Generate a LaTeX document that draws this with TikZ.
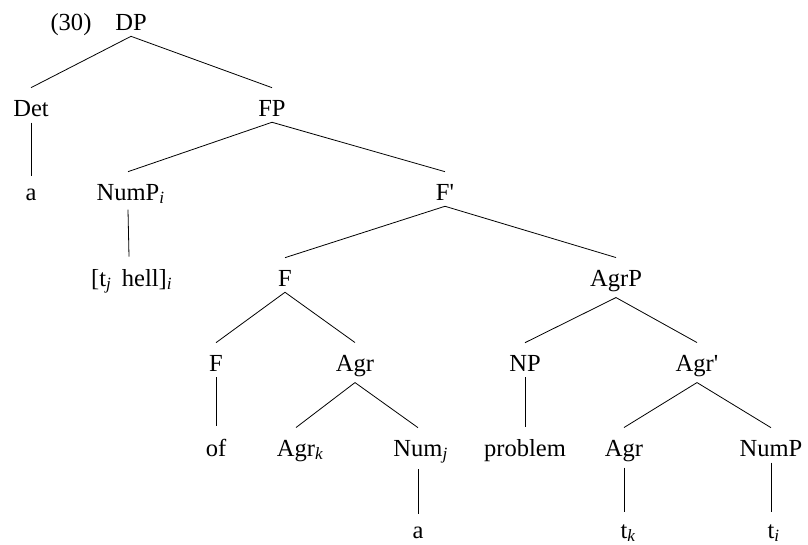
\documentclass[tikz,border=0pt]{standalone}
\usepackage{fontspec}
\setmainfont{Liberation Serif}
% subscript that takes no width, so the node centres on the label itself
\newcommand{\trsub}[1]{\rlap{\textsubscript{\textit{#1}}}}

\begin{document}
\begin{tikzpicture}[x=0.75pt,y=-0.75pt,
    lab/.style={anchor=base,inner ysep=4.5pt,font=\fontsize{18.4}{22}\selectfont},
    branch/.style={line width=0.6pt}]
  \useasboundingbox (0,0) rectangle (808,544);
  % level 0
  \node[lab] (ex) at (71,30) {(30)};
  \node[lab] (DP) at (131,30) {DP};
  % level 1
  \node[lab] (Det) at (31,116) {Det};
  \node[lab] (FP) at (272,116) {FP};
  % level 2
  \node[lab] (a1) at (31,200) {a};
  \node[lab] (NumPi) at (128,200) {NumP\trsub{i}};
  \node[lab] (Fbar) at (445,200) {F\textquotesingle};
  % level 3
  \node[lab] (thell) at (129,286) {[t\textsubscript{\textit{j}}\, hell]\trsub{i}};
  \node[lab] (F) at (285,286) {F};
  \node[lab] (AgrP) at (616,286) {AgrP};
  % level 4
  \node[lab] (Fl) at (216,371) {F};
  \node[lab] (Agr) at (355,371) {Agr};
  \node[lab] (NP) at (525,371) {NP};
  \node[lab] (Agrbar) at (697,371) {Agr\textquotesingle};
  % level 5
  \node[lab] (of) at (216,456) {of};
  \node[lab] (Agrk) at (296,456) {Agr\trsub{k}};
  \node[lab] (Numj) at (418,456) {Num\trsub{j}};
  \node[lab] (problem) at (525,456) {problem};
  \node[lab] (Agrr) at (624,456) {Agr};
  \node[lab] (NumP) at (771,456) {NumP};
  % level 6
  \node[lab] (a2) at (418,538) {a};
  \node[lab] (tk) at (624,538) {t\trsub{k}};
  \node[lab] (ti) at (771,538) {t\trsub{i}};
  % branches
  \foreach \p/\c in {DP/Det,DP/FP,Det/a1,FP/NumPi,FP/Fbar,NumPi/thell,
      Fbar/F,Fbar/AgrP,F/Fl,F/Agr,AgrP/NP,AgrP/Agrbar,Fl/of,Agr/Agrk,
      Agr/Numj,NP/problem,Agrbar/Agrr,Agrbar/NumP,Numj/a2,Agrr/tk,NumP/ti}
    \draw[branch] (\p.south) -- ([yshift=4.5pt]\c.north);
\end{tikzpicture}
\end{document}
